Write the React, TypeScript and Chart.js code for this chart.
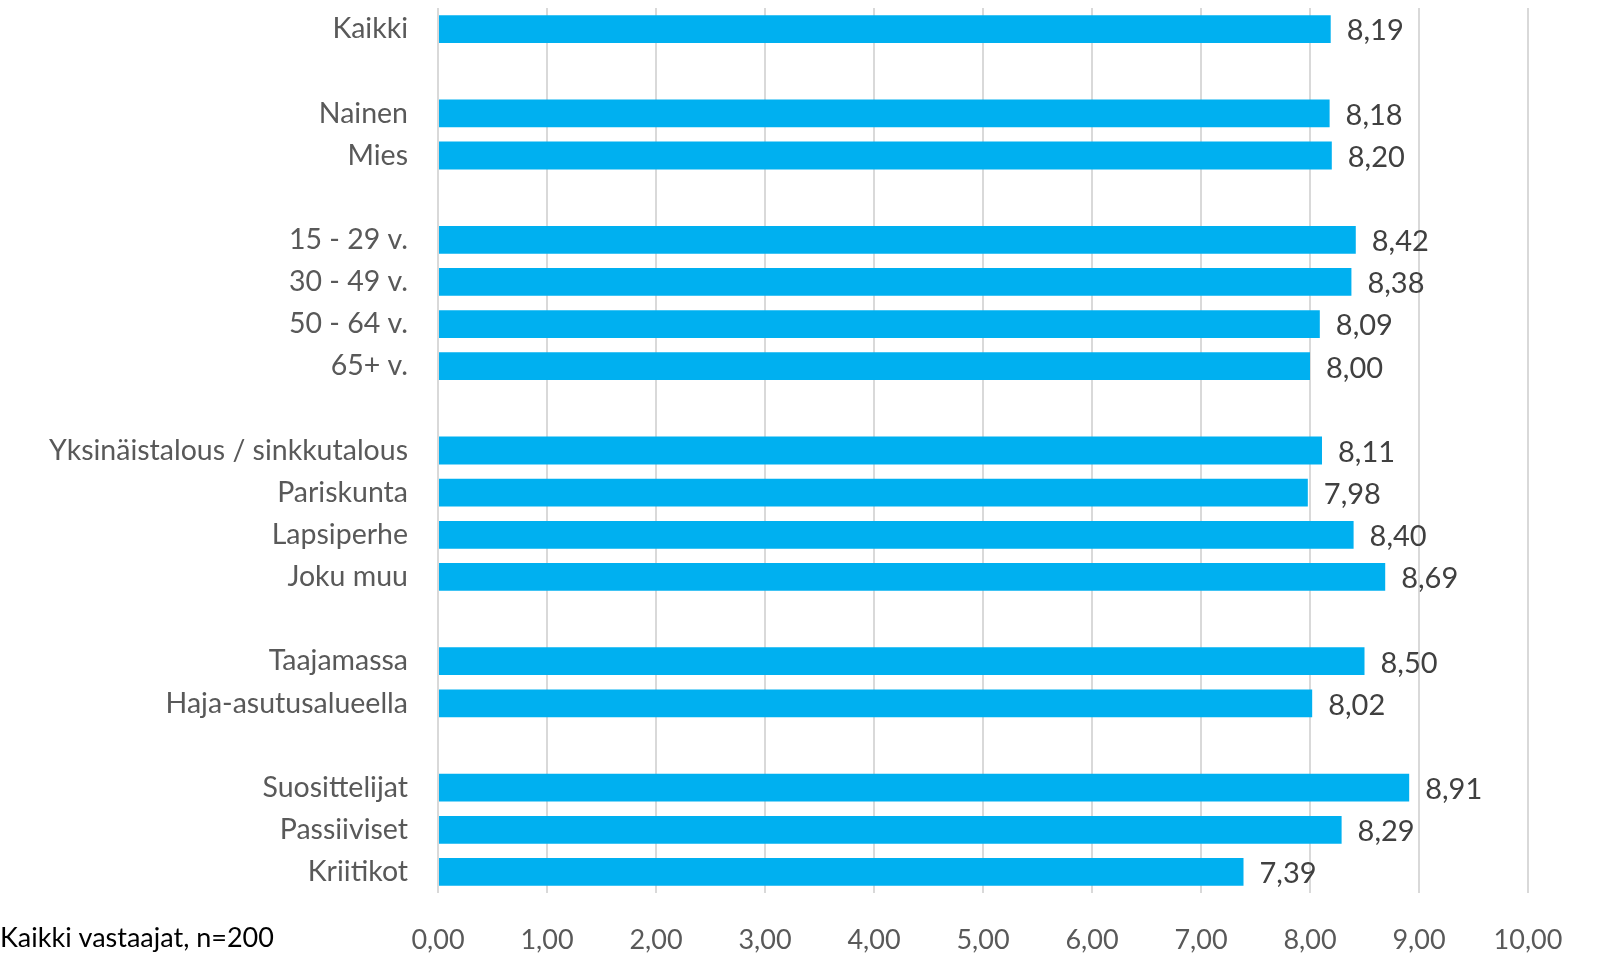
import React, { useEffect, useRef } from "react";
import { Chart, registerables } from "chart.js";

Chart.register(...registerables);

const categories = [
  "Kaikki", "",
  "Nainen", "Mies", "",
  "15 - 29 v.", "30 - 49 v.", "50 - 64 v.", "65+ v.", "",
  "Yksinäistalous / sinkkutalous", "Pariskunta", "Lapsiperhe", "Joku muu", "",
  "Taajamassa", "Haja-asutusalueella", "",
  "Suosittelijat", "Passiiviset", "Kriitikot",
];

const values: (number | null)[] = [
  8.19, null,
  8.18, 8.2, null,
  8.42, 8.38, 8.09, 8.0, null,
  8.11, 7.98, 8.4, 8.69, null,
  8.5, 8.02, null,
  8.91, 8.29, 7.39,
];

const xTicks = [0, 1, 2, 3, 4, 5, 6, 7, 8, 9, 10];
const footnote = "Kaikki vastaajat, n=200";

const FONT = "Lato, 'Open Sans', sans-serif";
const fmt = (v: number) => v.toFixed(2).replace(".", ",");

export default function App() {
  const ref = useRef<HTMLCanvasElement | null>(null);
  useEffect(() => {
    if (!ref.current) return;
    const labelPlugin = {
      id: "valueLabels",
      afterDatasetsDraw(chart: any) {
        const ctx = chart.ctx;
        const meta = chart.getDatasetMeta(0);
        ctx.save();
        ctx.font = `29px ${FONT}`;
        ctx.fillStyle = "#404040";
        ctx.textAlign = "left";
        ctx.textBaseline = "middle";
        meta.data.forEach((el: any, i: number) => {
          const v = values[i];
          if (v == null) return;
          ctx.fillText(fmt(v), el.x + 16, el.y + 2);
        });
        ctx.fillStyle = "#000000";
        ctx.font = `27px ${FONT}`;
        ctx.fillText(footnote, 0, 938);
        ctx.restore();
      },
    };
    const chart = new Chart(ref.current, {
      type: "bar",
      data: {
        labels: categories,
        datasets: [
          {
            data: values as any,
            backgroundColor: "#00B0F0",
            borderWidth: 0,
            barPercentage: 0.66,
            categoryPercentage: 1,
          },
        ],
      },
      options: {
        indexAxis: "y",
        animation: false,
        responsive: false,
        maintainAspectRatio: false,
        layout: { padding: { top: 8, right: 70, left: 0, bottom: 0 } },
        plugins: { legend: { display: false }, tooltip: { enabled: false } },
        scales: {
          x: {
            min: 0,
            max: 10,
            afterBuildTicks(scale: any) {
              scale.ticks = xTicks.map((v) => ({ value: v }));
            },
            afterFit(scale: any) {
              scale.height = 76;
              scale.paddingLeft = 0;
              scale.paddingRight = 0;
            },
            grid: { color: "#d9d9d9", lineWidth: 2, drawTicks: false },
            border: { display: false },
            ticks: {
              padding: 31,
              color: "#595959",
              font: { family: FONT, size: 27 },
              callback: (v: any) => fmt(Number(v)),
            },
          },
          y: {
            afterFit(scale: any) {
              scale.width = 438;
              scale.paddingTop = 0;
              scale.paddingBottom = 0;
            },
            grid: { display: false, drawTicks: false },
            border: { display: false },
            ticks: {
              padding: 30,
              color: "#595959",
              autoSkip: false,
              font: { family: FONT, size: 28.5 },
            },
          },
        },
      },
      plugins: [labelPlugin],
    });
    return () => chart.destroy();
  }, []);
  return (
    <div style={{ position: "fixed", left: 0, top: 0, width: 1598, height: 969, background: "#fff" }}>
      <canvas ref={ref} width={1598} height={969} style={{ width: 1598, height: 969 }} />
    </div>
  );
}
